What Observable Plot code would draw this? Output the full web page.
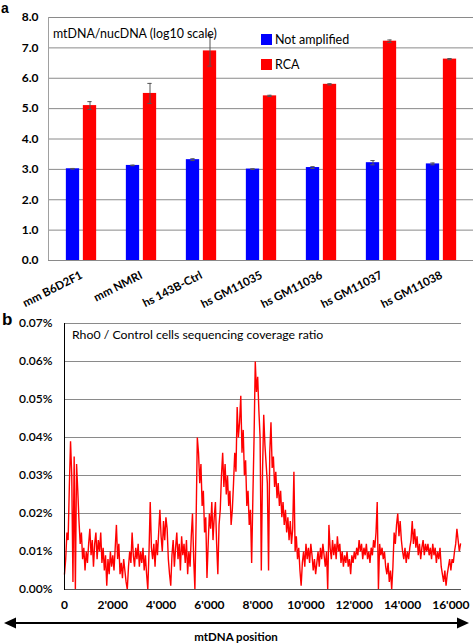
<!DOCTYPE html>
<html><head><meta charset="utf-8">
<script src="https://cdn.jsdelivr.net/npm/d3@7"></script>
<script src="https://cdn.jsdelivr.net/npm/@observablehq/plot@0.6"></script>
<style>
body{margin:0;background:#fff;}
#wrap{position:relative;width:473px;height:643px;overflow:hidden;font-family:Lato,sans-serif;}
.panel{position:absolute;left:0;}
.plabel{position:absolute;font-family:"Liberation Sans",Arial,sans-serif;font-weight:bold;line-height:1;}
.ttl{position:absolute;white-space:nowrap;color:#000;line-height:1;}
.legend{position:absolute;left:261px;font-size:12.5px;color:#000;}
.legend div{display:flex;align-items:center;height:25px;}
.legend span.sw{display:inline-block;width:11px;height:11px;margin-right:3px;}
</style></head><body><div id="wrap"></div>
<script>
// ---------- Panel a data ----------
const categories = ["mm B6D2F1","mm NMRI","hs 143B-Ctrl","hs GM11035","hs GM11036","hs GM11037","hs GM11038"];
const seriesNames = ["Not amplified","RCA"];
const notAmplified = [3.02,3.13,3.32,3.01,3.06,3.22,3.18];
const notAmplifiedErr = [0.01,0.01,0.03,0.01,0.03,0.07,0.03];
const rca = [5.10,5.50,6.90,5.42,5.80,7.22,6.63];
const rcaErr = [0.13,0.33,0.50,0.02,0.02,0.04,0.02];
const yTicksA = [0,1,2,3,4,5,6,7,8];
const seriesColors = ["#0000ff","#ff0000"];
const titleA = "mtDNA/nucDNA (log10 scale)";

// ---------- Panel b data (ratio in %, sampled every 50 bp) ----------
const coverageStep = 50;
const coverage = [
0.004,0.008,0.015,0.013,0.027,0.039,0.030,0.002,0.035,0.000,0.033,0.026,0.018,0.012,0.015,0.008,0.011,0.005,0.010,0.007,
0.012,0.016,0.009,0.013,0.006,0.012,0.015,0.008,0.013,0.010,0.015,0.007,0.011,0.005,0.009,0.001,0.008,0.004,0.010,0.006,
0.009,0.005,0.011,0.017,0.008,0.012,0.004,0.007,0.003,0.008,0.005,0.002,0.000,0.006,0.010,0.007,0.015,0.009,0.006,0.011,
0.008,0.012,0.006,0.010,0.007,0.011,0.005,0.009,0.004,0.000,0.010,0.023,0.011,0.008,0.012,0.006,0.013,0.009,0.015,0.021,
0.014,0.010,0.018,0.013,0.019,0.016,0.008,0.004,0.001,0.009,0.013,0.006,0.011,0.015,0.008,0.012,0.005,0.014,0.009,0.012,
0.007,0.013,0.004,0.010,0.006,0.014,0.020,0.008,0.000,0.018,0.040,0.036,0.028,0.033,0.022,0.026,0.015,0.019,0.003,0.012,
0.020,0.016,0.023,0.013,0.019,0.023,0.012,0.004,0.017,0.021,0.030,0.036,0.027,0.033,0.025,0.030,0.022,0.026,0.017,0.021,
0.028,0.036,0.031,0.048,0.040,0.044,0.051,0.036,0.042,0.030,0.034,0.022,0.026,0.017,0.021,0.007,0.024,0.040,0.060,0.052,
0.056,0.047,0.040,0.005,0.031,0.046,0.038,0.033,0.028,0.005,0.036,0.044,0.032,0.035,0.027,0.031,0.024,0.028,0.022,0.026,
0.019,0.023,0.017,0.021,0.015,0.019,0.013,0.018,0.012,0.016,0.031,0.010,0.014,0.008,0.011,0.005,0.001,0.007,0.010,0.006,
0.012,0.008,0.011,0.007,0.012,0.009,0.005,0.008,0.004,0.007,0.010,0.006,0.011,0.008,0.012,0.009,0.006,0.010,0.000,0.017,
0.011,0.008,0.013,0.009,0.012,0.008,0.014,0.010,0.012,0.007,0.010,0.006,0.009,0.007,0.010,0.006,0.008,0.004,0.009,0.007,
0.010,0.008,0.011,0.009,0.013,0.010,0.012,0.008,0.011,0.009,0.012,0.008,0.010,0.007,0.011,0.009,0.013,0.011,0.015,0.023,
0.000,0.012,0.009,0.011,0.008,0.010,0.006,0.004,0.007,0.002,0.005,0.000,0.006,0.015,0.012,0.017,0.020,0.014,0.018,0.013,
0.010,0.008,0.011,0.007,0.010,0.008,0.011,0.013,0.018,0.012,0.016,0.011,0.014,0.009,0.012,0.008,0.011,0.013,0.009,0.012,
0.010,0.012,0.009,0.011,0.008,0.012,0.009,0.011,0.007,0.010,0.008,0.011,0.006,0.004,0.002,0.005,0.001,0.004,0.006,0.008,
0.005,0.008,0.007,0.010,0.012,0.016,0.013,0.010,0.012
];
const xTicksB = [0,2000,4000,6000,8000,10000,12000,14000,16000];
const yTicksB = [0,0.01,0.02,0.03,0.04,0.05,0.06,0.07];
const titleB = "Rho0 / Control cells sequencing coverage ratio";
const xLabelB = "mtDNA position";

// ---------- build ----------
const wrap = document.getElementById("wrap");
const font = "Lato, sans-serif";

const rows = categories.flatMap((c, i) => [
  {category: c, series: seriesNames[0], value: notAmplified[i], err: notAmplifiedErr[i]},
  {category: c, series: seriesNames[1], value: rca[i], err: rcaErr[i]}
]);
const mLeftA = 48, widthA = 473;
const bw = (widthA - mLeftA) / categories.length;
const half = bw / 2, barW = 14, gap = 1.5;
const inset = {
  [seriesNames[0]]: {l: half - gap - barW, r: half + gap, dx: -(gap + barW / 2)},
  [seriesNames[1]]: {l: half + gap, r: half - gap - barW, dx: gap + barW / 2}
};
const bySeries = s => rows.filter(d => d.series === s);

const marksA = [
  Plot.gridY(yTicksA, {stroke: "#8a8a8a", strokeOpacity: 1}),
  Plot.frame({anchor: "left", stroke: "#a0a0a0"})
];
for (const s of seriesNames) {
  const data = bySeries(s), o = inset[s];
  marksA.push(Plot.barY(data, {x: "category", y: "value", fill: "series", insetLeft: o.l, insetRight: o.r}));
  marksA.push(Plot.ruleX(data, {x: "category", y1: d => d.value - d.err, y2: d => d.value + d.err, dx: o.dx, stroke: "#555", strokeWidth: 1}));
  marksA.push(Plot.tickY(data, {x: "category", y: d => d.value + d.err, dx: o.dx, insetLeft: half - 2.5, insetRight: half - 2.5, stroke: "#555"}));
  marksA.push(Plot.tickY(data, {x: "category", y: d => d.value - d.err, dx: o.dx, insetLeft: half - 2.5, insetRight: half - 2.5, stroke: "#555"}));
}
marksA.push(Plot.ruleY([0], {stroke: "#8a8a8a"}));

const plotA = Plot.plot({
  width: widthA, height: 300,
  marginTop: 17, marginBottom: 40, marginLeft: mLeftA, marginRight: 0,
  style: {fontFamily: font, fontSize: "11.5px", fontWeight: "bold", color: "#000", background: "transparent", overflow: "visible"},
  x: {domain: categories, padding: 0, label: null, tickSize: 0, tickRotate: -27, tickPadding: 14},
  y: {domain: [0, 8], ticks: yTicksA, tickFormat: d => d.toFixed(1), label: null, tickSize: 0, tickPadding: 10},
  color: {domain: seriesNames, range: seriesColors},
  marks: marksA
});
plotA.classList.add("panel");
plotA.style.top = "0px";
wrap.appendChild(plotA);
plotA.querySelectorAll('[aria-label="y-axis tick label"] text').forEach(t => t.setAttribute("font-size", "12"));

// titles (HTML overlays)
function addText(txt, left, top, size, weight) {
  const d = document.createElement("div");
  d.className = "ttl"; d.textContent = txt;
  d.style.left = left + "px"; d.style.top = top + "px";
  d.style.fontSize = size + "px"; d.style.fontWeight = weight;
  wrap.appendChild(d);
}
addText(titleA, 53, 28, 12.4, "normal");
addText(titleB, 72, 329, 12.3, "normal");

// legend
const leg = document.createElement("div");
leg.className = "legend";
leg.style.top = "27px";
leg.innerHTML = seriesNames.map((s, i) => `<div><span class="sw" style="background:${seriesColors[i]}"></span>${s}</div>`).join("");
wrap.appendChild(leg);

// Panel b
const covData = coverage.map((v, i) => ({pos: i * coverageStep, v}));
const plotB = Plot.plot({
  width: 473, height: 315,
  marginTop: 23, marginBottom: 26, marginLeft: 64, marginRight: 12,
  style: {fontFamily: font, fontSize: "12px", fontWeight: "bold", color: "#000", background: "transparent", overflow: "visible"},
  x: {domain: [0, 16440], ticks: xTicksB, tickFormat: d => d3.format(",")(d).replace(/,/g, "'"), tickSize: 0, tickPadding: 11, label: null},
  y: {domain: [0, 0.07], ticks: yTicksB, tickFormat: d => d.toFixed(2) + "%", tickSize: 0, tickPadding: 12, label: null},
  marks: [
    Plot.gridY(yTicksB, {stroke: "#8a8a8a", strokeOpacity: 1}),
    Plot.line(covData, {x: "pos", y: "v", stroke: "#ff0000", strokeWidth: 1.4, strokeLinejoin: "miter", strokeMiterlimit: 3}),
    Plot.ruleY([0], {stroke: "#555"}),
    Plot.frame({anchor: "left", stroke: "#000"})
  ]
});
plotB.classList.add("panel");
plotB.style.top = "300px";
wrap.appendChild(plotB);
plotB.querySelectorAll('[aria-label="y-axis tick label"] text').forEach(t => t.setAttribute("font-weight", "600"));

// panel letters
const la = document.createElement("div"); la.className = "plabel"; la.textContent = "a";
la.style.cssText += "left:1px;top:1px;font-size:14px;"; wrap.appendChild(la);
const lb = document.createElement("div"); lb.className = "plabel"; lb.textContent = "b";
lb.style.cssText += "left:2px;top:311px;font-size:17px;"; wrap.appendChild(lb);

// axis caption with double-headed arrow
const foot = document.createElement("div");
foot.style.cssText = "position:absolute;left:0;top:613px;width:473px;height:30px;";
foot.innerHTML = `<svg width="473" height="30" style="display:block">
 <line x1="14" y1="10" x2="459" y2="10" stroke="#000" stroke-width="2.2"/>
 <path d="M4,10 L16,4.5 L16,15.5 Z" fill="#000"/>
 <path d="M469,10 L457,4.5 L457,15.5 Z" fill="#000"/>
 <text x="236" y="28" text-anchor="middle" font-family="${font}" font-weight="bold" font-size="11.5">${xLabelB}</text>
</svg>`;
wrap.appendChild(foot);
</script></body></html>
